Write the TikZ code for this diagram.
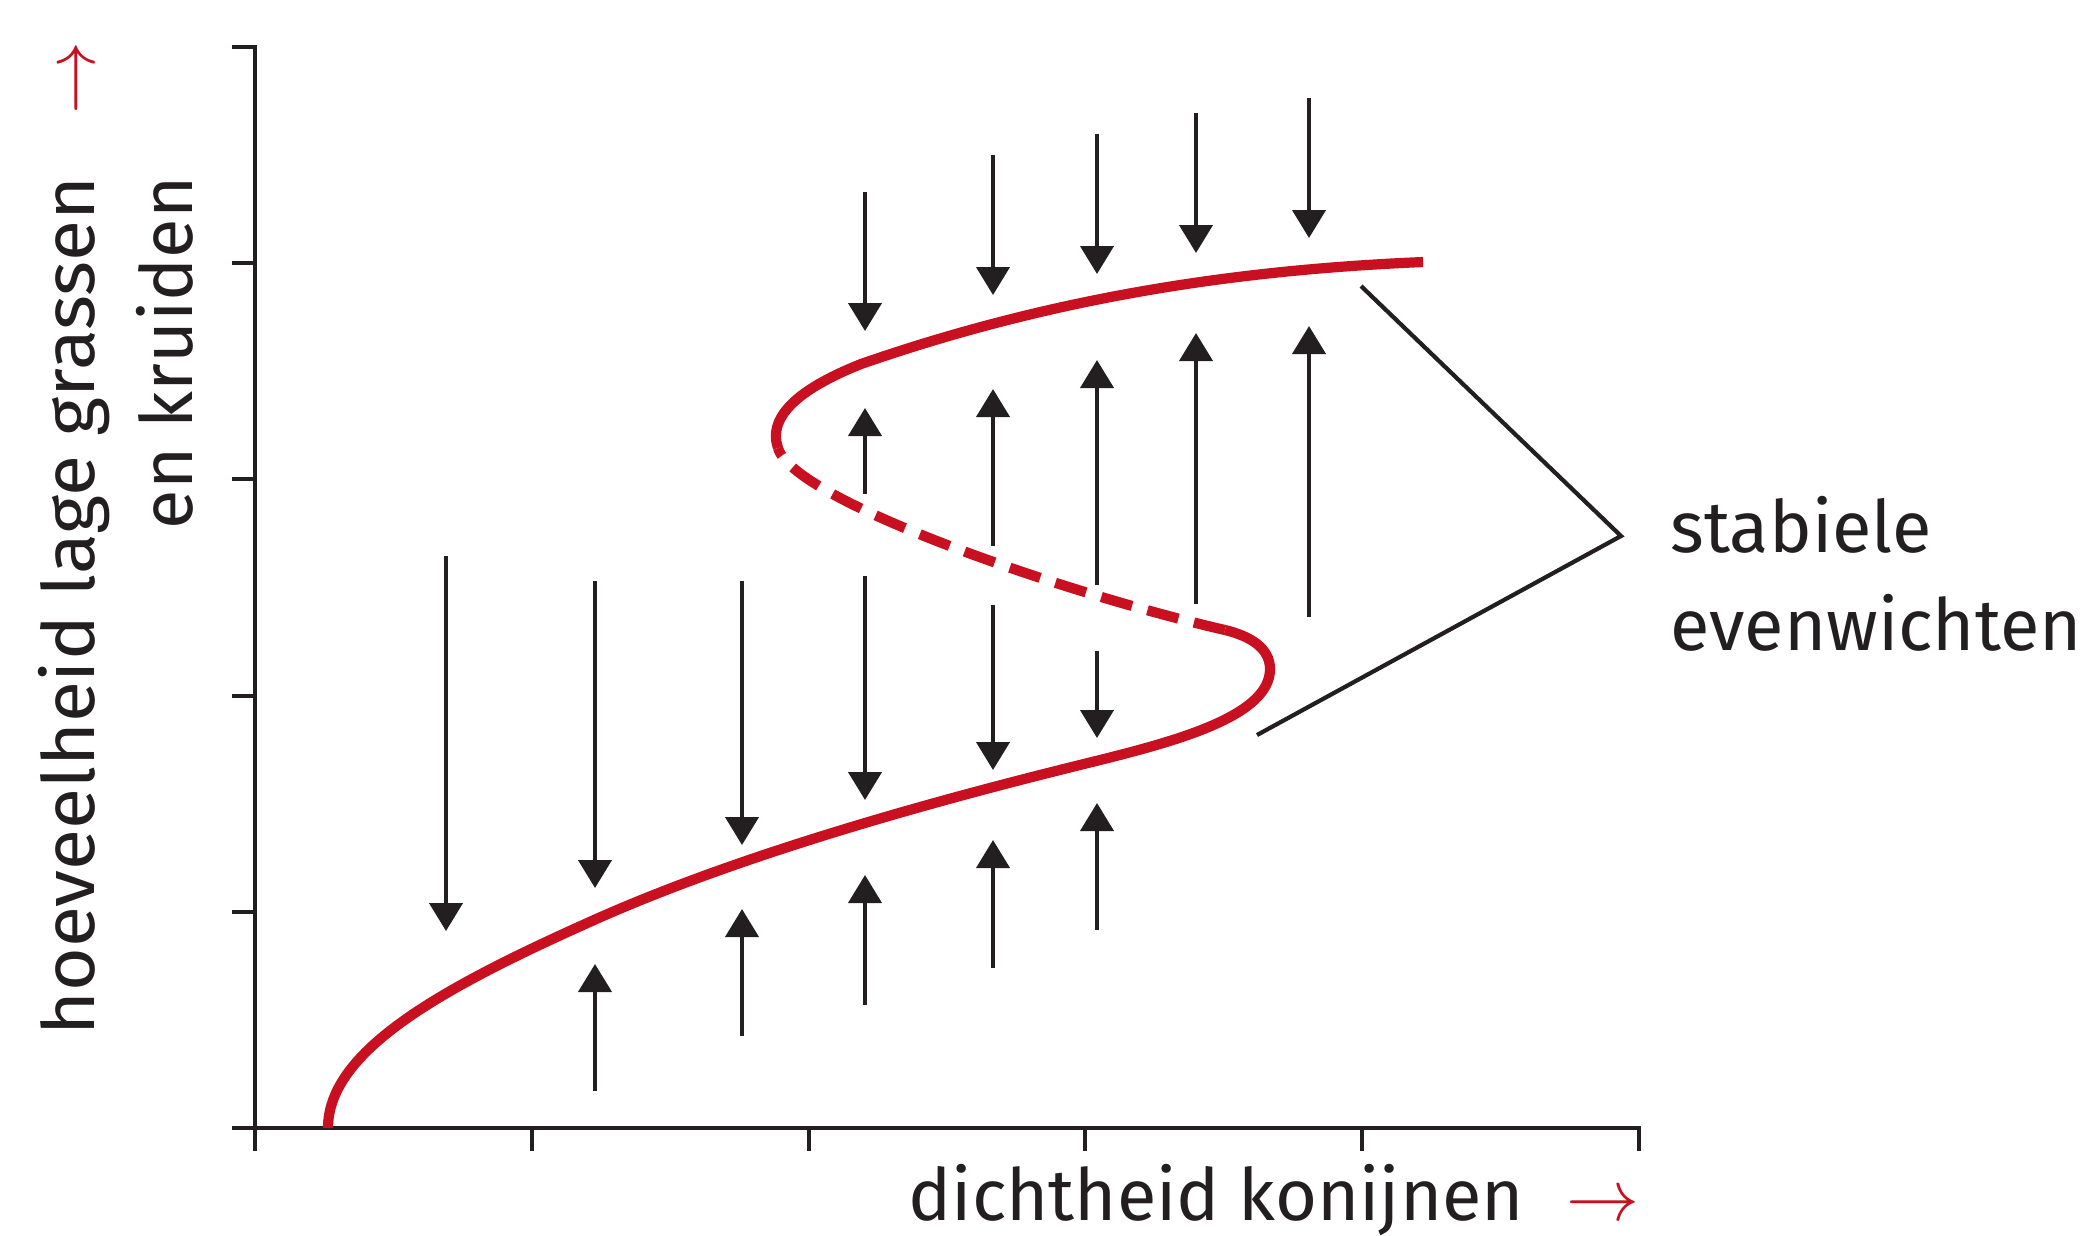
\documentclass[tikz,border=0pt]{standalone}
\usepackage{fontspec}
\setmainfont{Fira Sans}
\usetikzlibrary{arrows.meta}
\definecolor{curvered}{RGB}{200,16,32}
\definecolor{ink}{RGB}{35,31,32}
\begin{document}
\begin{tikzpicture}[x=0.01cm,y=-0.01cm,
  axis/.style={line width=1.4pt, ink},
  flow/.style={line width=1.2pt, ink, -{Triangle[width=0.33cm,length=0.28cm]}},
  branch/.style={line width=2.9pt, curvered},
  unstable/.style={branch, dash pattern=on 0.32cm off 0.16cm},
  pointer/.style={line width=1.2pt, ink},
  lbl/.style={inner sep=0pt, font=\fontsize{20.5pt}{24pt}\selectfont, text=ink},
  redarrow/.style={inner sep=0pt, font=\fontsize{20.5pt}{24pt}\selectfont, text=curvered}
]
\useasboundingbox (0,0) rectangle (2085,1235);

% axes
\coordinate (ytop) at (255,47);
\coordinate (orig) at (255,1128);
\coordinate (xend) at (1639,1128);
\draw[axis] (232,47) -- (ytop) -- (255,1151);
\draw[axis] (232,1128) -- (xend) -- (1639,1151);
\foreach \y in {263,479,696,912} \draw[axis] (232,\y) -- (255,\y);
\foreach \x in {532,809,1085,1362} \draw[axis] (\x,1128) -- (\x,1151);

% flow arrows: name / column x / start y / tip y
\foreach \n/\x/\s/\t in {
  a/446/556/931,
  b/595/581/888, c/595/1091/964,
  d/742/581/845, e/742/1036/909,
  f/865/192/331, g/865/494/408, h/865/576/800, i/865/1005/875,
  j/993/155/295, k/993/546/389, l/993/605/770, m/993/968/840,
  n/1097/134/274, o/1097/585/360, p/1097/651/738, q/1097/930/803,
  r/1196/113/253, s/1196/604/333,
  t/1309/98/238, u/1309/617/326}{
  \coordinate (\n s) at (\x,\s);
  \coordinate (\n t) at (\x,\t);
  \draw[flow] (\n s) -- (\n t);
}

% S-curve
\coordinate (c0) at (328,1128);
\coordinate (c1) at (594,920);
\coordinate (c2) at (1100,760);
\coordinate (c3) at (1270,669);
\coordinate (c4) at (1225,630);
\coordinate (c5) at (778,448);
\coordinate (c6) at (861,364);
\coordinate (c7) at (1423,262);
\draw[branch] (c0) .. controls (328,1050) and (444,987) .. (c1)
  .. controls (764,844) and (990,787) .. (c2)
  .. controls (1180,740) and (1270,715) .. (c3)
  .. controls (1270,648) and (1250,636) .. (c4);
\draw[unstable] (c4) .. controls (1060,592) and (793,500) .. (c5);
\draw[branch] (c5) .. controls (765,410) and (816,382) .. (c6)
  .. controls (1051,298) and (1233,270) .. (c7);

% pointer lines
\coordinate (p1) at (1361,286);
\coordinate (pv) at (1621,536);
\coordinate (p2) at (1257,735);
\draw[pointer] (p1) -- (pv) -- (p2);

% labels
\node[lbl, anchor=base west] (stab) at (1670,552) {stabiele};
\node[lbl, anchor=base west] (even) at (1670,650) {evenwichten};
\node[lbl, anchor=base west] (xlab) at (908,1220) {dichtheid konijnen};
\node[redarrow, anchor=base west] (xarr) at (1566,1220) {$\rightarrow$};
\node[lbl, anchor=base east, rotate=90, xscale=1.04] (ylab1) at (94,176) {hoeveelheid lage grassen};
\node[lbl, anchor=base east, rotate=90] (ylab2) at (192,176) {en kruiden};
\node[redarrow, anchor=base west, rotate=90] (yarr) at (94,115) {$\rightarrow$};
\end{tikzpicture}
\end{document}
